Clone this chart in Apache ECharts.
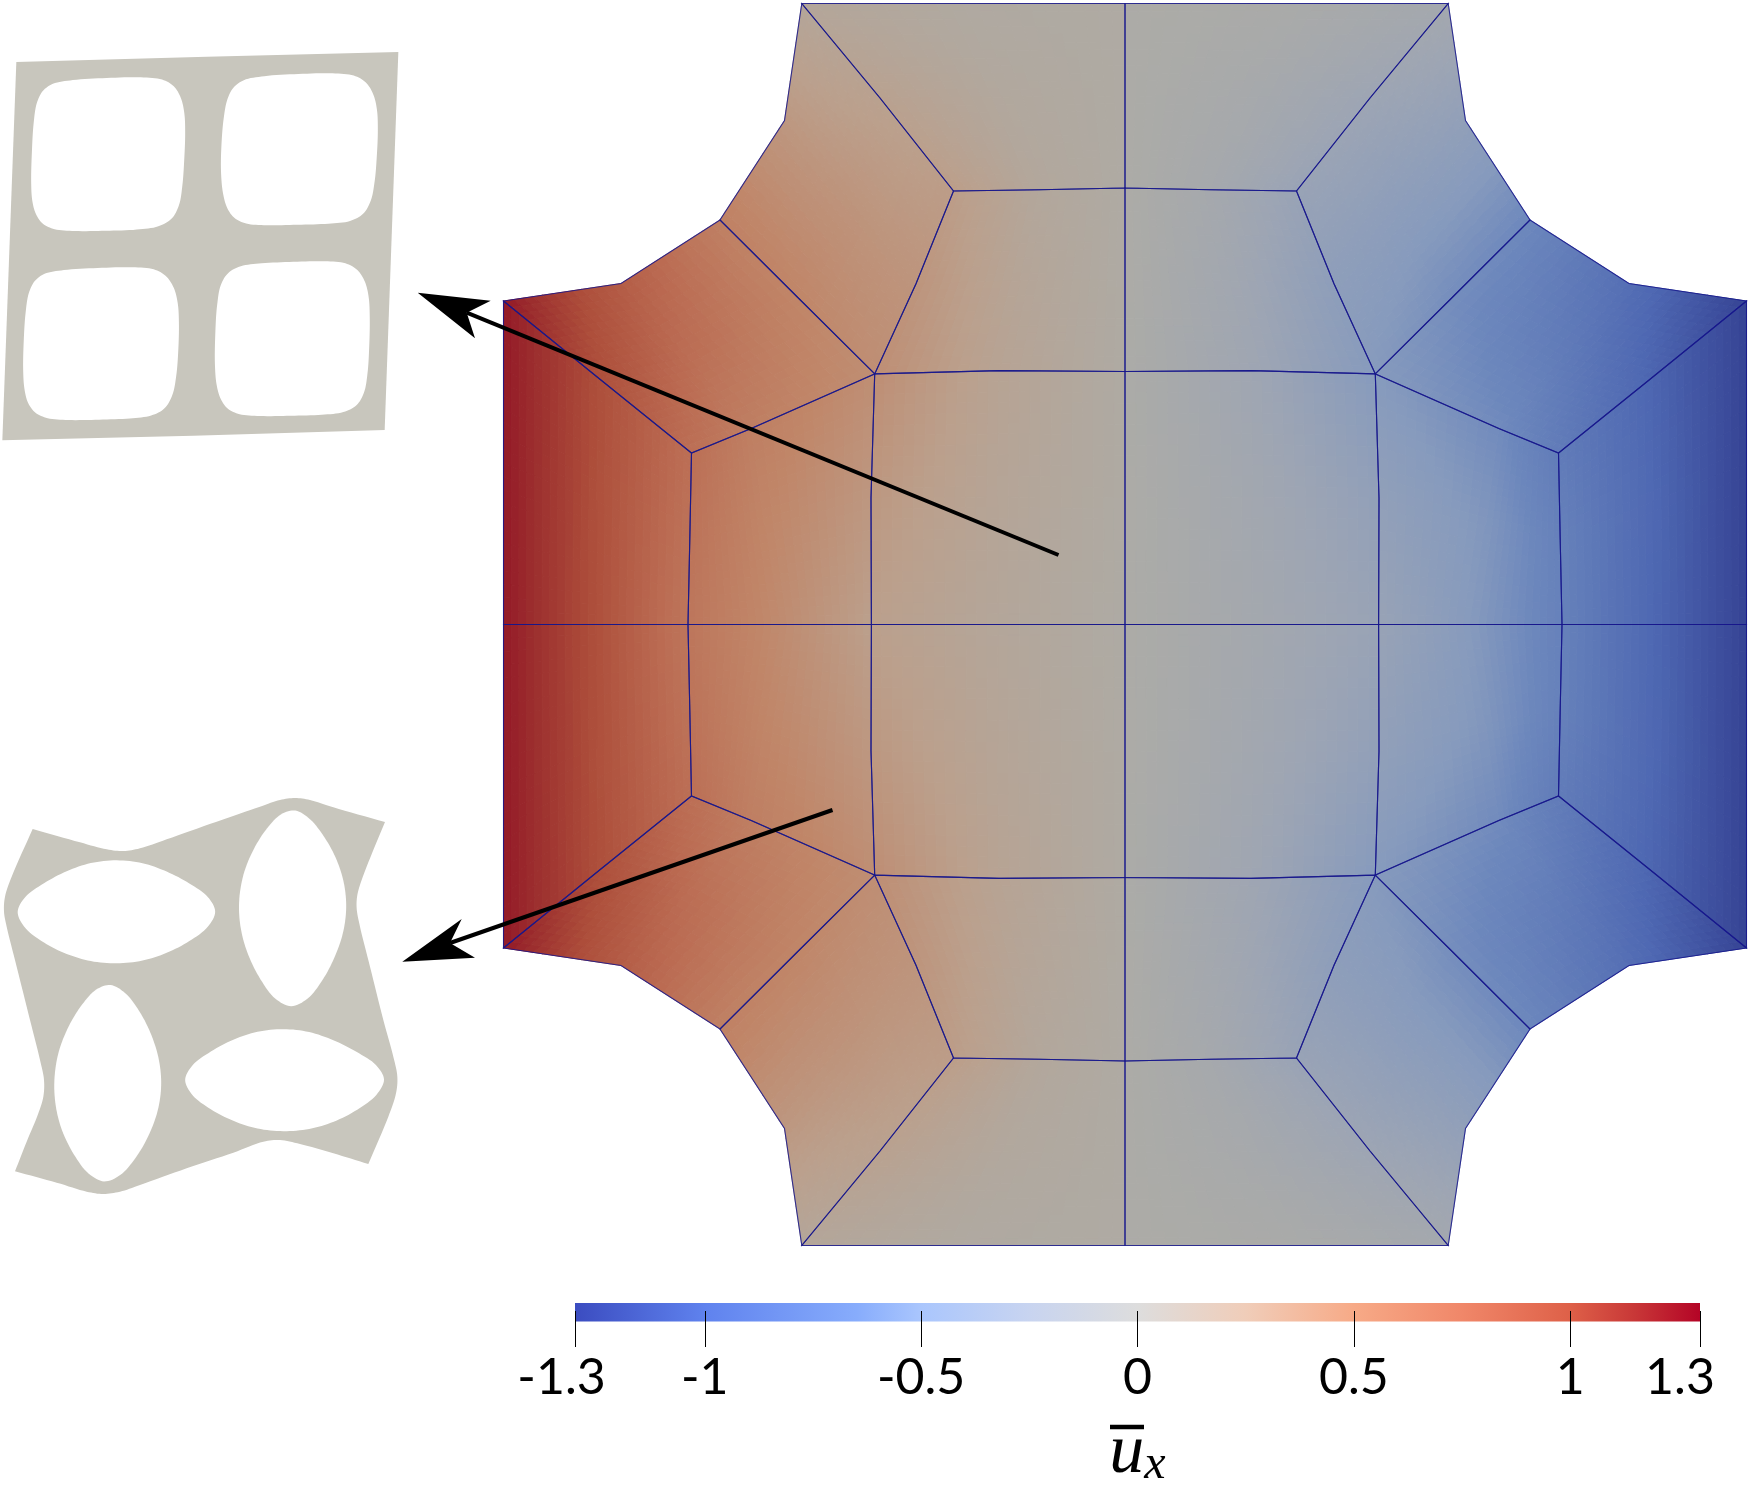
<!DOCTYPE html>
<html><head><meta charset="utf-8">
<style>html,body{margin:0;padding:0;background:#fff}#c{width:1750px;height:1500px}</style>
<script src="https://cdn.jsdelivr.net/npm/echarts@6/dist/echarts.min.js"></script>
</head><body><div id="c"></div>
<script>
// ---- Mesh: top-left quadrant nodes (corner + mid-side)
const nodeX = [801.8,963,1125,1125,1125,1039,953.5,880,784.5,720,916,874.7,797.3,621,503.5,597.8,691.5,751.2,503.5,503.5,595.8,688,689.8,779.7,871.4,871,999,1125,1125,1125,1125,998];
const nodeY = [3.5,3.5,3.5,96,188,189.8,191,98,120.5,220,283.7,373.9,297,283.5,301,377.5,453,428.6,463,624.5,624.5,624.5,539,624.5,624.5,498,370.6,371.5,280,498,624.5,624.5];
// displacement at those nodes, left half and right half of the plate
const uLeft  = [.12,.05,.03,.03,.03,.1,.28,.22,.33,.55,.36,.42,.5,.88,1.24,1.0,.72,.57,1.24,1.24,.99,.65,.68,.45,.25,.33,.18,.03,.03,.03,.02,.12];
const uRight = [-.14,-.05,-.01,-.01,-.01,-.12,-.3,-.25,-.38,-.65,-.42,-.5,-.6,-.93,-1.27,-1.02,-.78,-.62,-1.27,-1.27,-1.0,-.72,-.72,-.5,-.3,-.38,-.22,-.02,-.01,-.01,-.01,-.14];
// eight-node elements: c0,m,c1,m,c2,m,c3,m
const elements = [
 [0,1,2,3,4,5,6,7],[0,7,6,10,11,12,9,8],[9,12,11,17,16,15,14,13],[14,15,16,22,21,20,19,18],
 [16,17,11,25,24,23,21,22],[6,5,4,28,27,26,11,10],[11,26,27,29,30,31,24,25]
];
// ---- Colour bar
const barTicks = [-1.3,-1,-0.5,0,0.5,1,1.3];
const cmapU = [-1.3,-1,-.65,-.5,-.25,0,.25,.5,.75,1,1.15,1.3];
const cmapRGB = [[59,76,192],[95,130,238],[135,172,252],[170,198,253],[200,212,240],[221,221,221],[240,205,185],[247,170,135],[240,135,105],[222,96,72],[200,55,55],[180,4,38]];
// ---- Arrows [x,y]
const arrow1 = {tail:[1058.5,555],tip:[417.7,292.7],barbA:[490.7,300.7],notch:[466.7,312.7],barbB:[475,338.3]};
const arrow2 = {tail:[832.5,810],tip:[402.3,961.7],barbA:[461.7,919],notch:[450,943],barbB:[475,957.7]};
// overbar of the colour-bar title [x1,x2,y]
const titleBar = [1110,1144,1427];
// ---- Inset 1 (undeformed lattice)
const inset1Outer = [[49,96],[620,80],[1195,66],[1154,1200],[580,1217],[7,1231]];
const inset1Holes = [
 [[200,150],[320,143],[440,140],[490,145],[525,165],[545,200],[555,250],[557,300],[553,390],[548,470],[540,530],[520,570],[480,593],[420,600],[320,602],[210,605],[160,600],[125,585],[105,555],[95,510],[92,470],[95,370],[100,270],[108,215],[125,180],[155,158]],
 [[775,138],[895,131],[1015,128],[1065,133],[1100,153],[1122,188],[1133,238],[1135,290],[1131,380],[1125,460],[1115,515],[1095,555],[1055,578],[995,581],[895,584],[785,588],[735,583],[700,568],[680,538],[668,495],[660,430],[664,340],[670,258],[680,205],[697,170],[727,147]],
 [[172,720],[292,713],[415,710],[465,714],[500,734],[525,770],[535,820],[538,870],[536,960],[530,1040],[520,1100],[498,1140],[458,1160],[400,1166],[300,1169],[190,1172],[140,1167],[102,1152],[82,1122],[72,1080],[68,1030],[70,940],[76,840],[84,785],[101,750],[131,728]],
 [[770,700],[880,695],[990,692],[1040,696],[1075,716],[1098,752],[1108,802],[1110,850],[1109,950],[1103,1040],[1095,1090],[1075,1130],[1035,1150],[975,1155],[875,1157],[765,1160],[715,1155],[680,1140],[660,1110],[648,1065],[643,1015],[645,915],[650,815],[660,760],[680,725],[720,705]]
];
// ---- Inset 2 (buckled lattice): four edges with sharp corners
const inset2Edges = [
 [[98,147],[240,187],[320,208],[370,213],[420,205],[500,178],[650,125],[780,80],[840,60],[885,54],[930,60],[1000,82],[1155,126]],
 [[1155,126],[1120,210],[1085,300],[1072,345],[1070,385],[1080,440],[1110,560],[1150,720],[1180,830],[1192,890],[1188,940],[1165,1010],[1105,1152]],
 [[1105,1152],[1000,1120],[900,1092],[840,1080],[790,1085],[700,1118],[560,1165],[420,1215],[360,1235],[310,1242],[260,1235],[170,1208],[45,1174]],
 [[45,1174],[80,1085],[115,1000],[130,950],[132,900],[120,840],[90,720],[50,560],[20,440],[12,395],[15,350],[35,290],[98,147]]
];
const inset2Holes = [
 [[38,395],[68,349],[130,310],[200,270],[270,245],[350,237],[430,245],[500,272],[570,310],[632,349],[659,395],[632,441],[570,485],[500,522],[430,545],[350,554],[270,547],[200,525],[130,490],[68,446]],
 [[885,81],[930,110],[975,170],[1015,240],[1035,310],[1043,385],[1033,460],[1005,535],[970,600],[925,665],[872,692],[825,665],[780,600],[740,525],[720,450],[712,370],[725,280],[760,205],[800,140],[845,95]],
 [[330,605],[375,630],[420,690],[460,770],[480,840],[488,915],[478,990],[450,1065],[410,1135],[360,1195],[312,1216],[265,1190],[220,1125],[180,1050],[165,980],[159,900],[170,815],[205,735],[245,670],[290,620]],
 [[541,900],[570,854],[630,815],[700,775],[770,752],[850,743],[930,752],[1000,778],[1070,815],[1137,854],[1167,897],[1137,946],[1075,990],[1000,1030],[930,1050],[850,1057],[770,1050],[700,1025],[630,990],[570,946]]
];

// ---- Helpers
const MESH_CX = 1125, MESH_CY = 624.5, SUBDIV = 12;
const SHADE = [0.75,0.745,0.72], LIFT = 7;
const LATTICE = '#c8c6bd', MESH_LINE = 'rgba(22,22,140,0.85)';
function cmap(u){
  let i = 0; while(i < cmapU.length-2 && u > cmapU[i+1]) i++;
  const t = Math.max(0,Math.min(1,(u-cmapU[i])/(cmapU[i+1]-cmapU[i])));
  return cmapRGB[i].map((c,k)=>c+(cmapRGB[i+1][k]-c)*t);
}
const surface = u => { const c = cmap(u).map((v,k)=>Math.round(v*SHADE[k]+LIFT)); return `rgb(${c[0]},${c[1]},${c[2]})`; };
const fullElements = [];
[[1,1,uLeft],[-1,1,uRight],[1,-1,uLeft],[-1,-1,uRight]].forEach(([sx,sy,U])=>{
  elements.forEach(e=>fullElements.push(e.map(n=>[
    MESH_CX+sx*(nodeX[n]-MESH_CX), MESH_CY+sy*(nodeY[n]-MESH_CY), U[n]])));
});
const bil=(a,b,c,d,s,t)=>a.map((_,k)=>(1-s)*(1-t)*a[k]+s*(1-t)*b[k]+s*t*c[k]+(1-s)*t*d[k]);
function renderElement(params, api){
  const e = fullElements[api.value(0)];
  const ctr = [0,1,2].map(k=>-(e[0][k]+e[2][k]+e[4][k]+e[6][k])/4+(e[1][k]+e[3][k]+e[5][k]+e[7][k])/2);
  const subs = [[e[0],e[1],ctr,e[7]],[e[1],e[2],e[3],ctr],[ctr,e[3],e[4],e[5]],[e[7],ctr,e[5],e[6]]];
  const children = [];
  subs.forEach(q=>{
    for(let i=0;i<SUBDIV;i++) for(let j=0;j<SUBDIV;j++){
      const s0=i/SUBDIV,s1=(i+1)/SUBDIV,t0=j/SUBDIV,t1=(j+1)/SUBDIV;
      const P=[bil(...q,s0,t0),bil(...q,s1,t0),bil(...q,s1,t1),bil(...q,s0,t1)];
      const col=surface(bil(...q,(s0+s1)/2,(t0+t1)/2)[2]);
      children.push({type:'polygon',shape:{points:P.map(p=>api.coord([p[0],p[1]]))},
        style:{fill:col,stroke:col,lineWidth:1}});
    }
  });
  return {type:'group',children};
}
function renderEdges(params, api){
  const e = fullElements[api.value(0)];
  return {type:'polygon',shape:{points:e.map(p=>api.coord([p[0],p[1]]))},
    style:{fill:'none',stroke:MESH_LINE,lineWidth:1.1,lineJoin:'miter'}};
}
// one light smoothing pass over hand-read outline points
function relax(pts){
  const n=pts.length;
  return pts.map((p,i)=>{const a=pts[(i-1+n)%n],b=pts[(i+1)%n];return [(a[0]+2*p[0]+b[0])/4,(a[1]+2*p[1]+b[1])/4];});
}
// centripetal Catmull-Rom through the read points
function catmull(pts, closed){
  const out=[], n=pts.length, last=closed?n:n-1;
  const g=i=>closed?pts[(i+n)%n]:(i<0?[2*pts[0][0]-pts[1][0],2*pts[0][1]-pts[1][1]]:i>=n?[2*pts[n-1][0]-pts[n-2][0],2*pts[n-1][1]-pts[n-2][1]]:pts[i]);
  const dt=(a,b)=>Math.max(1e-3,Math.sqrt(Math.hypot(a[0]-b[0],a[1]-b[1])));
  const mix=(a,b,ta,tb,t)=>[0,1].map(d=>((tb-t)*a[d]+(t-ta)*b[d])/(tb-ta));
  for(let i=0;i<last;i++){
    const p0=g(i-1),p1=g(i),p2=g(i+1),p3=g(i+2);
    const t0=0,t1=t0+dt(p0,p1),t2=t1+dt(p1,p2),t3=t2+dt(p2,p3);
    for(let k=0;k<8;k++){
      const t=t1+(t2-t1)*k/8;
      const A1=mix(p0,p1,t0,t1,t),A2=mix(p1,p2,t1,t2,t),A3=mix(p2,p3,t2,t3,t);
      const B1=mix(A1,A2,t0,t2,t),B2=mix(A2,A3,t1,t3,t);
      out.push(mix(B1,B2,t1,t2,t));
    }
  }
  if(!closed) out.push(pts[n-1]);
  return out;
}
function latticeSeries(idx, outerPts, holes){
  return {type:'custom',xAxisIndex:idx,yAxisIndex:idx,clip:false,silent:true,data:[[0]],
    renderItem:(p,api)=>({type:'group',children:[
      {type:'polygon',shape:{points:outerPts.map(q=>api.coord(q))},style:{fill:LATTICE}},
      ...holes.map(h=>({type:'polygon',shape:{points:catmull(relax(h),true).map(q=>api.coord(q))},style:{fill:'#fff'}}))
    ]})};
}
function arrowSeries(a){
  return {type:'custom',xAxisIndex:0,yAxisIndex:0,clip:false,silent:true,z:6,data:[[0]],
    renderItem:(p,api)=>{
      const c=api.coord;
      return {type:'group',children:[
        {type:'line',shape:{x1:c(a.tail)[0],y1:c(a.tail)[1],x2:c(a.notch)[0],y2:c(a.notch)[1]},style:{stroke:'#000',lineWidth:4}},
        {type:'polygon',shape:{points:[a.tip,a.barbA,a.notch,a.barbB].map(q=>c(q))},style:{fill:'#000'}}
      ]};
    }};
}
const hidden = (extra)=>Object.assign({type:'value',show:false,scale:false},extra);
const inset2Outline = inset2Edges.flatMap(ed=>catmull(ed,false));
const gradStops = cmapU.map((u,i)=>({offset:(u+1.3)/2.6,color:`rgb(${cmapRGB[i].join(',')})`}));
const BAR_BOTTOM = 0.58;
const labelFont = {fontFamily:'Lato',fontSize:50,color:'#000'};

const option = {
  animation:false, backgroundColor:'#fff',
  grid:[
    {left:0,top:0,width:1750,height:1500},
    {left:0,top:30,width:500,height:430},
    {left:0,top:780,width:500,height:430},
    {left:575,top:1303,width:1125,height:44}
  ],
  xAxis:[
    hidden({gridIndex:0,min:0,max:1750}),
    hidden({gridIndex:1,min:0,max:1500}),
    hidden({gridIndex:2,min:0,max:1500}),
    {type:'value',gridIndex:3,min:-1.3,max:1.3,z:10,position:'bottom',
     axisLine:{show:false},splitLine:{show:false},
     axisTick:{show:true,inside:true,length:36,customValues:barTicks,lineStyle:{color:'#000',width:1}},
     axisLabel:Object.assign({show:true,customValues:barTicks,margin:6,
       formatter:v=>v===-1.3?'{lo|-1.3}':v===1.3?'{hi|1.3}':String(v),
       rich:{lo:Object.assign({padding:[0,27,0,0]},labelFont),hi:Object.assign({padding:[0,40,0,0]},labelFont)}
     },labelFont),
     name:'{u|u}{x|x}',nameLocation:'middle',nameGap:72,
     nameTextStyle:{rich:{
       u:{fontFamily:'Liberation Serif',fontStyle:'italic',fontSize:70,color:'#000'},
       x:{fontFamily:'Liberation Serif',fontStyle:'italic',fontSize:48,color:'#000',verticalAlign:'bottom',padding:[22,0,0,0]}
     }}}
  ],
  yAxis:[
    hidden({gridIndex:0,min:0,max:1500,inverse:true}),
    hidden({gridIndex:1,min:0,max:1290,inverse:true}),
    hidden({gridIndex:2,min:0,max:1290,inverse:true}),
    hidden({gridIndex:3,min:0,max:1})
  ],
  series:[
    {type:'custom',xAxisIndex:0,yAxisIndex:0,clip:false,silent:true,z:2,
     data:fullElements.map((_,i)=>[i]),renderItem:renderElement},
    {type:'custom',xAxisIndex:0,yAxisIndex:0,clip:false,silent:true,z:3,
     data:fullElements.map((_,i)=>[i]),renderItem:renderEdges},
    latticeSeries(1,inset1Outer,inset1Holes),
    latticeSeries(2,inset2Outline,inset2Holes),
    arrowSeries(arrow1),
    arrowSeries(arrow2),
    {type:'custom',xAxisIndex:0,yAxisIndex:0,clip:false,silent:true,z:6,data:[[0]],
     renderItem:(p,api)=>{
       const a=api.coord([titleBar[0],titleBar[2]]), b=api.coord([titleBar[1],titleBar[2]]);
       return {type:'line',shape:{x1:a[0],y1:a[1],x2:b[0],y2:b[1]},style:{stroke:'#000',lineWidth:4.5}};
     }},
    {type:'custom',xAxisIndex:3,yAxisIndex:3,clip:false,silent:true,data:[[0]],z:2,
     renderItem:(p,api)=>{
       const a=api.coord([-1.3,1]), b=api.coord([1.3,BAR_BOTTOM]);
       return {type:'rect',shape:{x:a[0],y:a[1],width:b[0]-a[0],height:b[1]-a[1]},
         style:{fill:new echarts.graphic.LinearGradient(0,0,1,0,gradStops)}};
     }}
  ]
};
const chart = echarts.init(document.getElementById('c'),null,{renderer:'canvas'});
chart.setOption(option);
</script></body></html>
